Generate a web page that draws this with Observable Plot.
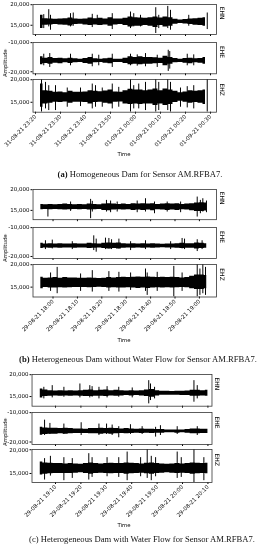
<!DOCTYPE html>
<html><head><meta charset="utf-8">
<script src="https://cdn.jsdelivr.net/npm/d3@7"></script>
<script src="https://cdn.jsdelivr.net/npm/@observablehq/plot@0.6"></script>
<style>
body{margin:0;background:#fff;}
#root{position:relative;width:266px;height:550px;overflow:hidden;background:#fff;}
.p{position:absolute;left:0;opacity:0.995;will-change:transform;}
.lab{position:absolute;font-family:"DejaVu Sans",sans-serif;font-size:5.4px;color:#000;white-space:nowrap;opacity:0.995;will-change:transform;}
.cap{position:absolute;font-family:"Liberation Serif",serif;font-size:8.6px;color:#111;white-space:nowrap;transform:translate(-50%,-50%);opacity:0.995;will-change:transform;}
</style></head><body><div id="root"></div>
<script>
// ---------- panel (a): Homogeneous Dam (minutes after 31-08-21 23:20) ----------
const aGrid = [2,4,6,8,10,12,14,16,18,20,22,24,26,28,30,32,34,36,38,40,42,44,46,48,50,52,54,56,58,60,62,64,66,68];
const aTicks = [0,10,20,30,40,50,60,70];
const aN_hi = [17420,16610,16530,16450,16530,16610,16770,16530,16450,16530,16770,16610,16690,16530,16850,16530,16530,16690,17020,16850,16770,16690,16850,17020,16770,17020,16850,16450,16290,16370,16530,16610,16690,16850];
const aN_lo = [14190,15000,15080,15160,15080,15000,14840,15160,15240,15080,14920,15080,14920,15080,14760,15080,15160,14920,14600,14760,14760,14920,14760,14440,14920,14600,14760,15240,15400,15320,15160,15000,14920,14760];
const aN_spikes = [[3.3,17580,14190],[5.3,18790,14600],[6,17420,13790],[14,17820,14600],[15.1,17980,14760],[22.7,17660,14440],[24.7,17420,15000],[30.7,17820,13950],[38,18220,14190],[39.3,17820,14600],[42,17420,14600],[48.1,19270,12990],[49.3,17420,14190],[52.9,19590,14190],[54,18630,13790],[61.3,17420,14760],[68.7,17980,13950]];
const aE_hi = [-14880,-15340,-15110,-15450,-15340,-15570,-15340,-15570,-15680,-15450,-15110,-15570,-15680,-15570,-15340,-15680,-15680,-15340,-14880,-15110,-14880,-15110,-15110,-15230,-15340,-14660,-15110,-15450,-15680,-15450,-15340,-15570,-15450,-15110];
const aE_lo = [-17610,-17160,-17380,-17040,-17270,-16930,-17160,-16930,-16820,-17160,-17380,-16930,-16820,-17040,-17270,-16820,-16820,-17160,-17610,-17380,-17610,-17380,-17380,-17270,-17160,-17950,-17380,-16930,-16820,-17040,-17270,-16930,-17040,-17380];
const aE_spikes = [[3.3,-13980,-17950],[5.7,-13750,-18520],[14,-13980,-17950],[22.7,-13980,-18290],[25.3,-14320,-17950],[30.7,-13980,-18520],[38,-13980,-17950],[40.7,-14200,-18070],[44,-13750,-18290],[48.7,-14320,-18520],[53.1,-12610,-19880],[53.7,-13070,-19090],[60.7,-13980,-17950],[63.3,-14200,-17950]];
const aZ_hi = [19040,17570,17430,17210,17280,17130,17430,17210,17210,17280,17570,17430,17350,17500,17720,17280,17210,17570,17870,17720,17720,17570,17720,17940,17570,17940,17720,17430,17130,17280,17570,17430,17570,17720];
const aZ_lo = [13900,14630,14780,15000,14930,15080,14780,15000,15000,14930,14630,14930,15000,14780,14630,15000,15080,14630,14490,14630,14490,14630,14630,14270,14630,14270,14490,14930,15220,15000,14780,14930,14780,14490];
const aZ_spikes = [[2.4,20050,12800],[4,19410,13530],[5.3,18680,13160],[8,18680,13160],[12.7,18160,13900],[18,18160,14050],[22.7,19040,13530],[24,18680,13900],[26.7,18160,13900],[30.7,19040,13530],[33.3,18310,13900],[38,20050,12800],[39.3,18680,13530],[41.3,19040,13530],[44,19410,13160],[48.1,20050,12800],[49.3,19410,13160],[52.9,20050,13160],[54,19410,12800],[58,18160,13900],[60.7,18460,13750],[63.3,18680,13530],[68.7,20050,12800]];

// ---------- panel (b): without water flow (minutes after 29-08-21 18:00) ----------
const bGrid = [-5,-3,-1,1,3,5,7,9,11,13,15,17,19,21,23,25,27,29,31,33,35,37,39,41,43,45,47,49,51,53,55,57,59,61,63];
const bTicks = [0,10,20,30,40,50,60];
const bN_hi = [16450,16370,16450,16370,16450,16530,16450,16370,16450,16370,16530,16450,16370,16530,16610,16530,16450,16530,16450,16610,16530,16610,16530,16610,16450,16530,16610,16530,16610,16450,16530,16610,16770,16850,16770];
const bN_lo = [15160,15240,15160,15240,15160,15080,15160,15240,15160,15240,15080,15160,15240,15000,14920,15080,15160,15080,15160,15000,15080,15000,15080,14920,15160,15080,15000,15080,15000,15160,15080,14920,14760,14760,14840];
const bN_spikes = [[-2.1,16210,13390],[7.2,17020,14760],[15.4,17660,12990],[16.1,17180,14600],[21.9,17420,14600],[23.6,17260,14440],[26.3,17020,14600],[34.5,17260,14440],[37.9,17820,14600],[41.6,17020,14190],[46.8,17020,14600],[52.3,17020,14440],[59.1,18220,13390],[60.4,17420,14190],[61.4,17820,14600],[62.9,17260,14440]];
const bE_hi = [-15450,-15680,-15570,-15680,-15570,-15680,-15680,-15570,-15680,-15680,-15450,-15570,-15680,-15450,-15340,-15450,-15340,-15570,-15680,-15570,-15680,-15570,-15680,-15570,-15680,-15790,-15680,-15680,-15570,-15450,-15570,-15570,-15340,-15450,-15570];
const bE_lo = [-17270,-17040,-17160,-17040,-17160,-17040,-17040,-17160,-17040,-17040,-17270,-17160,-17040,-17270,-17380,-17270,-17380,-17160,-17040,-17160,-17040,-17160,-17040,-17160,-17040,-16930,-17040,-17040,-17160,-17270,-17160,-17160,-17380,-17270,-17160];
const bE_spikes = [[-3.1,-14540,-17610],[-0.3,-14320,-17380],[7.9,-14880,-17610],[16.7,-12840,-17950],[17.7,-13980,-18520],[21.5,-13640,-17610],[22.9,-13750,-17380],[24,-14200,-17610],[27,-13980,-17380],[31.8,-14880,-17950],[37.9,-14540,-17610],[48.2,-14880,-17610],[52.9,-13750,-17380],[53.9,-13980,-17610],[59.1,-14200,-18290],[61.1,-14540,-17610]];
const bZ_hi = [17210,16990,17060,17130,16990,17130,17060,17060,16990,16990,17060,16990,16910,16990,17130,17060,17130,17210,17130,17210,17280,17210,17280,17210,17130,17210,17130,17210,17130,17060,17130,17430,17720,17720,17570];
const bZ_lo = [14630,14930,14780,14780,14850,14780,14850,14930,14930,14930,14850,14930,15000,14930,14780,14850,14780,14780,14850,14780,14710,14780,14710,14780,14850,14780,14850,14780,14850,14930,14850,14630,14490,14490,14630];
const bZ_spikes = [[-1,18160,14050],[1.7,19410,13530],[11.3,17940,14050],[16.1,18680,13900],[22.9,18460,14050],[27,18310,13900],[31.8,18160,14270],[37.9,19040,14050],[38.6,18160,13160],[42.7,18310,14050],[49.5,19630,12800],[52.9,18160,14050],[59.1,20050,12800],[60.2,19040,13160],[61.4,20050,13530],[62.5,19410,13160]];

// ---------- panel (c): with water flow (minutes after 29-08-21 19:10) ----------
const cGrid = [-6,-4,-2,0,2,4,6,8,10,12,14,16,18,20,22,24,26,28,30,32,34,36,38,40,42,44,46,48,50,52,54,56,58,60];
const cTicks = [0,10,20,30,40,50,60];
const cN_hi = [16740,16520,16360,16290,16360,16290,16360,16290,16360,16440,16520,16360,16440,16520,16360,16440,16360,16290,16360,16290,16360,16520,16590,16360,16210,16210,16140,16210,16210,16290,16440,16440,16360,16440];
const cN_lo = [14700,15000,15080,15150,15080,15150,15080,15150,15080,15000,15000,15080,15080,15000,15150,15080,15150,15230,15150,15230,15150,15000,14850,15150,15300,15300,15300,15300,15230,15230,15080,15080,15150,15080];
const cN_spikes = [[-4.6,17120,14470],[-1.3,17500,14700],[3.3,17120,14850],[9.6,17880,14700],[13.5,17500,14700],[14.4,17270,14850],[17.1,17120,14470],[20.3,17270,14700],[24.9,17120,14850],[30.2,16970,14700],[36.7,18640,13330],[37.4,17880,14090],[39,17120,14470],[54.5,18640,13710],[55.8,17500,14470]];
const cE_hi = [-15000,-15220,-15330,-15330,-15440,-15330,-15440,-15560,-15560,-15670,-15440,-15440,-15330,-15440,-15330,-15440,-15560,-15440,-15560,-15670,-15560,-15670,-15670,-15780,-15780,-15890,-15890,-15890,-15890,-15780,-15560,-15560,-15670,-15670];
const cE_lo = [-17670,-17440,-17330,-17330,-17220,-17330,-17220,-17110,-17110,-17110,-17220,-17220,-17330,-17220,-17330,-17220,-17110,-17220,-17110,-17000,-17110,-17000,-17110,-17000,-17000,-16890,-16890,-17000,-16890,-17000,-17220,-17220,-17110,-17110];
const cE_spikes = [[-4.3,-12560,-17780],[-2.2,-13670,-17440],[3.3,-13890,-17440],[10.1,-13440,-17780],[17.1,-13890,-17780],[20.1,-13890,-17440],[22.3,-14220,-17780],[24.9,-14780,-18560],[29.5,-14110,-17440],[34.1,-14780,-17440],[39.4,-15000,-18330],[41.3,-14440,-17780],[47.9,-14780,-17440],[55.8,-14780,-17780]];
const cZ_hi = [17430,17220,17150,17080,17080,17010,17080,17010,16950,17080,17220,17080,17010,17080,17150,17080,17080,17220,17150,17080,17010,17150,17220,17080,17010,16950,17010,17080,17010,17080,17220,17150,17080,17150];
const cZ_lo = [14660,14860,14930,15000,15000,15000,15000,15070,15140,15000,14860,15000,15070,15000,14930,15000,15000,14860,14930,15000,15070,14930,14860,15000,15070,15140,15070,15000,15070,15000,14860,14930,15000,14930];
const cZ_spikes = [[-4.3,18130,13620],[-2,18610,14450],[3.3,18330,13480],[6.6,18130,13960],[13.1,19170,13620],[14.4,18330,14170],[20.3,18330,14310],[24.9,18330,14170],[28.2,19510,13480],[33.5,18330,14310],[36.1,20050,13960],[37.7,18610,13480],[39.4,18330,14310],[47.9,19510,13960],[49.5,18330,14170],[54.5,20050,13100],[58.4,18330,13480]];

const channels = ["EHN", "EHE", "EHZ"];
const captions = [
  ["(a)", " Homogeneous Dam for Sensor AM.RFBA7."],
  ["(b)", " Heterogeneous Dam without Water Flow for Sensor AM.RFBA7."],
  ["(c)", " Heterogeneous Dam with Water Flow for Sensor AM.RFBA7."]
];

// ---------- layout ----------
const panels = [
  {base: Date.UTC(2021,7,31,23,20), grid: aGrid, ticks: aTicks, xdom: [-1.0, 72.4], ml: 32.5, mr: 50,
   traces: [[aN_hi,aN_lo,aN_spikes,[12750,20050],[15000,20000]],[aE_hi,aE_lo,aE_spikes,[-20700,-9950],[-20000,-10000]],[aZ_hi,aZ_lo,aZ_spikes,[12800,20050],[15000,20000]]],
   frames: [[4.3,34.3],[41.7,73],[79,111.7]], amp: 63, time: 154, cap: 173.5, capX: 140, capBold: true},
  {base: Date.UTC(2021,7,29,18,0), grid: bGrid, ticks: bTicks, xdom: [-8.2, 67.0], ml: 32.5, mr: 50,
   traces: [[bN_hi,bN_lo,bN_spikes,[12750,20050],[15000,20000]],[bE_hi,bE_lo,bE_spikes,[-20700,-9950],[-20000,-10000]],[bZ_hi,bZ_lo,bZ_spikes,[12800,20050],[15000,20000]]],
   frames: [[189.3,219.5],[226.7,257.7],[264,296.5]], amp: 248, time: 340, cap: 359, capX: 137.5, capBold: true},
  {base: Date.UTC(2021,7,29,19,10), grid: cGrid, ticks: cTicks, xdom: [-9.25, 61.6], ml: 31.5, mr: 54.5,
   traces: [[cN_hi,cN_lo,cN_spikes,[12800,20050],[15000,20000]],[cE_hi,cE_lo,cE_spikes,[-20850,-9950],[-20000,-10000]],[cZ_hi,cZ_lo,cZ_spikes,[13100,20050],[15000,20000]]],
   frames: [[374,405.7],[412.3,444.3],[449.3,482.3]], amp: 432, time: 525, cap: 539, capX: 141.5, capBold: false}
];

const root = document.getElementById("root");
const fmt = d3.utcFormat("%d-%m-%y %H:%M");
const yfmt = d => d.toLocaleString("en-US");

panels.forEach((P, pi) => {
  const T = m => new Date(P.base + m * 60000);
  const tickDates = P.ticks.map(T);
  P.traces.forEach(([hi, lo, spikes, ydom, yticks], ti) => {
    const bottom = ti === 2;
    const [ft, fb] = P.frames[ti];
    const mt = 6, mb = bottom ? 45 : 6;
    const env = P.grid.map((m, i) => ({t: T(m), hi: hi[i], lo: lo[i]}));
    const sp = spikes.map(([m, h, l]) => ({t: T(m), hi: h, lo: l}));
    const svg = Plot.plot({
      width: 266, height: mt + (fb - ft) + mb,
      marginLeft: P.ml, marginRight: P.mr, marginTop: mt, marginBottom: mb,
      style: {background: "transparent", overflow: "visible", fontFamily: "DejaVu Sans, sans-serif", fontSize: "5.5px", color: "#000"},
      x: {type: "utc", domain: P.xdom.map(T), ticks: tickDates, tickFormat: bottom ? fmt : () => "",
          tickRotate: bottom ? -45 : 0, tickSize: 2, tickPadding: 1.5, label: null},
      y: {domain: ydom, ticks: yticks, tickFormat: yfmt, tickSize: 2, tickPadding: 1.5, label: null},
      marks: [
        Plot.areaY(env, {x: "t", y1: "lo", y2: "hi", curve: "step", fill: "#000", clip: true}),
        Plot.ruleX(sp, {x: "t", y1: "lo", y2: "hi", stroke: "#000", strokeWidth: 1, clip: true}),
        Plot.frame({stroke: "#333", strokeWidth: 0.8}),
        Plot.text([channels[ti]], {frameAnchor: "right", dx: 5, rotate: 90, text: d => d, fontSize: 6, fill: "#000"})
      ]
    });
    svg.classList.add("p");
    svg.style.top = (ft - mt) + "px";
    root.appendChild(svg);
  });
  const amp = document.createElement("div");
  amp.className = "lab"; amp.textContent = "Amplitude";
  amp.style.left = "5px"; amp.style.top = P.amp + "px";
  amp.style.transform = "translate(-50%,-50%) rotate(-90deg)";
  root.appendChild(amp);
  const time = document.createElement("div");
  time.className = "lab"; time.textContent = "Time";
  time.style.left = "124px"; time.style.top = P.time + "px";
  time.style.transform = "translate(-50%,-50%)";
  root.appendChild(time);
  const cap = document.createElement("div");
  cap.className = "cap";
  cap.style.left = P.capX + "px"; cap.style.top = P.cap + "px";
  const b = document.createElement(P.capBold ? "b" : "span");
  b.textContent = captions[pi][0];
  cap.appendChild(b);
  cap.appendChild(document.createTextNode(captions[pi][1]));
  root.appendChild(cap);
});
</script></body></html>
